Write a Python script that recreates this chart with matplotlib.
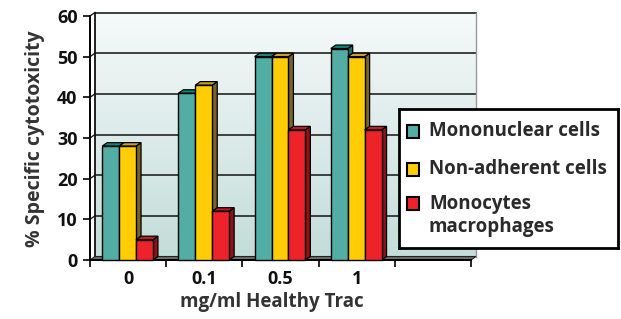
import matplotlib.pyplot as plt
import numpy as np
from matplotlib.colors import LinearSegmentedColormap
from matplotlib.patches import Polygon, Rectangle

plt.rcParams['font.family'] = ['Open Sans', 'DejaVu Sans']

# data
doses = ['0', '0.1', '0.5', '1', '']
mononuclear = [28, 41, 50, 52]
non_adherent = [28, 43, 50, 50]
monocytes = [5, 12, 32, 32]
series = [mononuclear, non_adherent, monocytes]
series_names = ['Mononuclear cells', 'Non-adherent cells', 'Monocytes\nmacrophages']
y_ticks = [0, 10, 20, 30, 40, 50, 60]

front_cols = ['#52aea5', '#ffcc05', '#ee2229']
top_cols = ['#10857b', '#c9a12a', '#c8171d']
side_cols = ['#1b6d66', '#7a6428', '#8a1418']
FW = 'bold'

W, H = 621, 319
fig = plt.figure(figsize=(W / 100, H / 100), dpi=100)
ax = fig.add_axes([90 / W, 59 / H, 381 / W, 244 / H])

n_slots = len(doses)
ymax = y_ticks[-1]
dx = 5 * n_slots / 381
dy = 3.5 * ymax / 244
bw = 0.222

# back wall with a soft gradient, light at the top
grad = np.linspace(0, 1, 256).reshape(-1, 1)
cmap = LinearSegmentedColormap.from_list('wall', ['#f6fafa', '#c3ddd9'])
ax.imshow(grad, cmap=cmap, aspect='auto', origin='upper',
          extent=(dx, n_slots + dx, dy, ymax + dy), zorder=0, clip_on=False)

for v in y_ticks[1:]:
    ax.plot([dx, n_slots + dx], [v + dy, v + dy], color='#333333', lw=1.3, zorder=1, clip_on=False)
    ax.plot([0, dx], [v, v + dy], color='#222222', lw=1.0, zorder=1, clip_on=False)
ax.plot([dx, dx], [dy, ymax + dy], color='#111111', lw=1.3, zorder=1, clip_on=False)
ax.plot([n_slots + dx, n_slots + dx], [dy, ymax + dy], color='#999999', lw=1.0, zorder=1, clip_on=False)

floor = Polygon([(0, 0), (n_slots, 0), (n_slots + dx, dy), (dx, dy)],
                closed=True, facecolor='#6a6a6a', edgecolor='#222222', lw=0.8, zorder=1.5, clip_on=False)
ax.add_patch(floor)

k = 0
for i in range(len(mononuclear)):
    for j, vals in enumerate(series):
        v = vals[i]
        x0 = i + 0.16 + j * bw
        z = 3 + k * 0.1
        side = Polygon([(x0 + bw, 0), (x0 + bw + dx, dy), (x0 + bw + dx, v + dy), (x0 + bw, v)],
                       closed=True, facecolor=side_cols[j], edgecolor='black', lw=0.9, zorder=z, clip_on=False)
        top = Polygon([(x0, v), (x0 + bw, v), (x0 + bw + dx, v + dy), (x0 + dx, v + dy)],
                      closed=True, facecolor=top_cols[j], edgecolor='black', lw=0.9, zorder=z, clip_on=False)
        ax.add_patch(side)
        ax.add_patch(top)
        ax.bar(x0, v, width=bw, align='edge', color=front_cols[j], edgecolor='black',
               lw=1.0, zorder=z + 0.05, clip_on=False)
        k += 1

ax.set_xlim(0, n_slots)
ax.set_ylim(0, ymax)

for s in ['top', 'right']:
    ax.spines[s].set_visible(False)
ax.spines['left'].set_linewidth(1.4)
ax.spines['bottom'].set_linewidth(1.4)

ax.set_yticks(y_ticks)
ax.set_yticklabels([str(t) for t in y_ticks], fontsize=13, fontweight=FW, color='#111111')
ax.tick_params(axis='y', length=5, width=1.2, pad=4)
ax.set_xticks(range(n_slots + 1))
ax.set_xticklabels([])
ax.tick_params(axis='x', which='major', length=5, width=1.2)
ax.set_xticks(np.arange(n_slots) + 0.5, minor=True)
ax.set_xticklabels(doses, minor=True, fontsize=13, fontweight=FW, color='#111111')
ax.tick_params(axis='x', which='minor', length=0, pad=7)

fig.text(35 / W, 1 - 139 / H, '% Specific cytotoxicity', rotation=90, ha='center', va='center',
         fontsize=14, fontweight=FW, color='#333333')
fig.text(272 / W, 1 - 302 / H, 'mg/ml Healthy Trac', ha='center', va='center',
         fontsize=13.5, fontweight=FW, color='#333333')

# legend box
lax = fig.add_axes([399 / W, 71 / H, 219 / W, 139 / H])
lax.set_xlim(0, 219)
lax.set_ylim(139, 0)
lax.set_xticks([])
lax.set_yticks([])
for s in lax.spines.values():
    s.set_linewidth(2)
    s.set_edgecolor('black')
for j, (name, yc) in enumerate(zip(series_names, [22, 60, 94])):
    lax.add_patch(Rectangle((8, yc - 6.5), 12, 13, facecolor=front_cols[j], edgecolor='black', lw=1.5))
    lax.text(30, yc if j < 2 else yc - 9, name, ha='left', va='center' if j < 2 else 'top',
             fontsize=13.5, fontweight=FW, color='#2a2a2a', linespacing=1.2)

fig.savefig('out.png', dpi=100)
